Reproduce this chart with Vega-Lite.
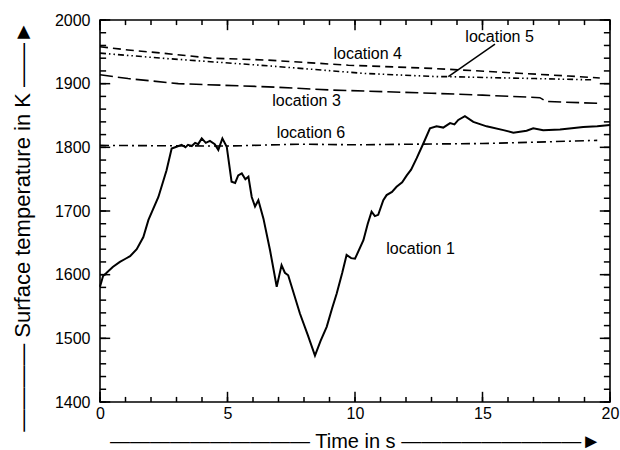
{
  "$schema": "https://vega.github.io/schema/vega-lite/v6.json",
  "width": 510,
  "height": 382,
  "autosize": "none",
  "padding": {"left": 100, "top": 20, "right": 10, "bottom": 48},
  "background": "white",
  "config": {
    "view": {"stroke": "black", "strokeWidth": 1.6},
    "font": "Liberation Sans",
    "axis": {
      "grid": false,
      "domain": false,
      "ticks": false,
      "labelColor": "black",
      "labelFontSize": 16,
      "labelFont": "Liberation Sans",
      "labelOverlap": false,
      "labelFlush": false,
      "labelBound": false,
      "titleColor": "black",
      "titleFont": "Liberation Sans",
      "titleFontWeight": "normal"
    }
  },
  "datasets": {
    "loc1": [
      {"t": 0.0, "T": 1581}, {"t": 0.12, "T": 1598}, {"t": 0.26, "T": 1603}, {"t": 0.5, "T": 1612},
      {"t": 0.78, "T": 1620}, {"t": 1.0, "T": 1625}, {"t": 1.18, "T": 1629}, {"t": 1.44, "T": 1640},
      {"t": 1.7, "T": 1659}, {"t": 1.9, "T": 1686}, {"t": 2.29, "T": 1722}, {"t": 2.61, "T": 1764},
      {"t": 2.81, "T": 1798}, {"t": 3.0, "T": 1801}, {"t": 3.2, "T": 1804}, {"t": 3.35, "T": 1800},
      {"t": 3.45, "T": 1804}, {"t": 3.6, "T": 1802}, {"t": 3.73, "T": 1807}, {"t": 3.85, "T": 1805},
      {"t": 3.99, "T": 1814}, {"t": 4.15, "T": 1807}, {"t": 4.31, "T": 1810}, {"t": 4.5, "T": 1805},
      {"t": 4.64, "T": 1796}, {"t": 4.8, "T": 1814}, {"t": 4.97, "T": 1801}, {"t": 5.16, "T": 1746},
      {"t": 5.3, "T": 1744}, {"t": 5.42, "T": 1756}, {"t": 5.56, "T": 1759}, {"t": 5.7, "T": 1750},
      {"t": 5.82, "T": 1754}, {"t": 5.95, "T": 1722}, {"t": 6.08, "T": 1707}, {"t": 6.21, "T": 1717},
      {"t": 6.41, "T": 1688}, {"t": 6.67, "T": 1638}, {"t": 6.93, "T": 1581}, {"t": 7.12, "T": 1615},
      {"t": 7.25, "T": 1603}, {"t": 7.38, "T": 1599}, {"t": 7.84, "T": 1539}, {"t": 8.15, "T": 1505},
      {"t": 8.43, "T": 1473}, {"t": 8.65, "T": 1496}, {"t": 8.89, "T": 1518}, {"t": 9.1, "T": 1547},
      {"t": 9.28, "T": 1570}, {"t": 9.5, "T": 1603}, {"t": 9.67, "T": 1631}, {"t": 9.85, "T": 1626},
      {"t": 10.0, "T": 1625}, {"t": 10.33, "T": 1654}, {"t": 10.5, "T": 1680}, {"t": 10.65, "T": 1699},
      {"t": 10.78, "T": 1692}, {"t": 10.91, "T": 1694}, {"t": 11.11, "T": 1717}, {"t": 11.24, "T": 1725},
      {"t": 11.45, "T": 1730}, {"t": 11.63, "T": 1738}, {"t": 11.85, "T": 1745}, {"t": 12.03, "T": 1756},
      {"t": 12.2, "T": 1765}, {"t": 12.42, "T": 1783}, {"t": 12.68, "T": 1806}, {"t": 12.94, "T": 1830},
      {"t": 13.2, "T": 1833}, {"t": 13.46, "T": 1831}, {"t": 13.73, "T": 1838}, {"t": 13.9, "T": 1836},
      {"t": 14.05, "T": 1843}, {"t": 14.31, "T": 1849}, {"t": 14.64, "T": 1840}, {"t": 15.16, "T": 1833},
      {"t": 15.82, "T": 1827}, {"t": 16.21, "T": 1823}, {"t": 16.73, "T": 1826}, {"t": 16.99, "T": 1830},
      {"t": 17.38, "T": 1827}, {"t": 18.04, "T": 1828}, {"t": 18.5, "T": 1830}, {"t": 18.95, "T": 1832},
      {"t": 19.5, "T": 1833}, {"t": 20.0, "T": 1835}
    ],
    "dashed": [
      {"loc": "location 3", "t": 0.0, "T": 1914}, {"loc": "location 3", "t": 1.1, "T": 1908},
      {"loc": "location 3", "t": 3.07, "T": 1900}, {"loc": "location 3", "t": 6.6, "T": 1895},
      {"loc": "location 3", "t": 9.09, "T": 1890}, {"loc": "location 3", "t": 13.0, "T": 1885},
      {"loc": "location 3", "t": 15.0, "T": 1882}, {"loc": "location 3", "t": 17.25, "T": 1878},
      {"loc": "location 3", "t": 17.5, "T": 1872}, {"loc": "location 3", "t": 19.6, "T": 1869},
      {"loc": "location 4", "t": 0.0, "T": 1958}, {"loc": "location 4", "t": 1.1, "T": 1953},
      {"loc": "location 4", "t": 2.42, "T": 1948}, {"loc": "location 4", "t": 4.38, "T": 1940},
      {"loc": "location 4", "t": 6.6, "T": 1937}, {"loc": "location 4", "t": 9.74, "T": 1929},
      {"loc": "location 4", "t": 13.0, "T": 1924}, {"loc": "location 4", "t": 15.75, "T": 1918},
      {"loc": "location 4", "t": 18.37, "T": 1912}, {"loc": "location 4", "t": 19.6, "T": 1909},
      {"loc": "location 5", "t": 0.0, "T": 1948}, {"loc": "location 5", "t": 2.42, "T": 1940},
      {"loc": "location 5", "t": 6.6, "T": 1928}, {"loc": "location 5", "t": 10.4, "T": 1916},
      {"loc": "location 5", "t": 13.27, "T": 1911}, {"loc": "location 5", "t": 13.66, "T": 1911},
      {"loc": "location 5", "t": 17.06, "T": 1908}, {"loc": "location 5", "t": 19.3, "T": 1906},
      {"loc": "location 6", "t": 0.0, "T": 1803}, {"loc": "location 6", "t": 5.0, "T": 1802},
      {"loc": "location 6", "t": 7.84, "T": 1805}, {"loc": "location 6", "t": 10.0, "T": 1804},
      {"loc": "location 6", "t": 15.0, "T": 1806}, {"loc": "location 6", "t": 17.0, "T": 1808},
      {"loc": "location 6", "t": 19.5, "T": 1811}
    ],
    "labels": [
      {"label": "location 4", "t": 10.5, "T": 1946},
      {"label": "location 3", "t": 8.1, "T": 1873},
      {"label": "location 5", "t": 15.67, "T": 1974},
      {"label": "location 6", "t": 8.27, "T": 1822},
      {"label": "location 1", "t": 12.57, "T": 1640}
    ],
    "leader": [
      {"t": 15.49, "T": 1962, "t2": 13.66, "T2": 1911}
    ],
    "xt": [
      {"t": 0}, {"t": 1}, {"t": 2}, {"t": 3}, {"t": 4}, {"t": 5}, {"t": 6}, {"t": 7}, {"t": 8}, {"t": 9}, {"t": 10},
      {"t": 11}, {"t": 12}, {"t": 13}, {"t": 14}, {"t": 15}, {"t": 16}, {"t": 17}, {"t": 18}, {"t": 19}, {"t": 20}
    ],
    "yt": [
      {"T": 1400}, {"T": 1420}, {"T": 1440}, {"T": 1460}, {"T": 1480}, {"T": 1500}, {"T": 1520}, {"T": 1540},
      {"T": 1560}, {"T": 1580}, {"T": 1600}, {"T": 1620}, {"T": 1640}, {"T": 1660}, {"T": 1680}, {"T": 1700},
      {"T": 1720}, {"T": 1740}, {"T": 1760}, {"T": 1780}, {"T": 1800}, {"T": 1820}, {"T": 1840}, {"T": 1860},
      {"T": 1880}, {"T": 1900}, {"T": 1920}, {"T": 1940}, {"T": 1960}, {"T": 1980}, {"T": 2000}
    ]
  },
  "layer": [
    {
      "data": {"name": "loc1"},
      "mark": {"type": "line", "color": "black", "strokeWidth": 2, "interpolate": "linear"},
      "encoding": {
        "x": {
          "field": "t", "type": "quantitative",
          "scale": {"domain": [0, 20], "nice": false, "zero": false},
          "axis": {
            "orient": "bottom",
            "values": [0, 5, 10, 15, 20],
            "labelPadding": 3,
            "title": "—————————— Time in s —————————►",
            "titleFontSize": 20,
            "titlePadding": 10
          }
        },
        "y": {
          "field": "T", "type": "quantitative",
          "scale": {"domain": [1400, 2000], "nice": false, "zero": false},
          "axis": {
            "orient": "left",
            "values": [1400, 1500, 1600, 1700, 1800, 1900, 2000],
            "format": "d",
            "labelPadding": 10,
            "title": "———— Surface temperature in K ——►",
            "titleFontSize": 22,
            "titlePadding": 20,
            "titleY": 206
          }
        }
      }
    },
    {
      "data": {"name": "dashed"},
      "mark": {"type": "line", "color": "black", "strokeWidth": 1.6},
      "encoding": {
        "x": {"field": "t", "type": "quantitative"},
        "y": {"field": "T", "type": "quantitative"},
        "detail": {"field": "loc", "type": "nominal"},
        "strokeDash": {
          "field": "loc", "type": "nominal", "legend": null,
          "scale": {
            "domain": ["location 3", "location 4", "location 5", "location 6"],
            "range": [[13, 5], [8, 5], [6, 3, 1.5, 3, 1.5, 3], [9, 4, 2, 4]]
          }
        }
      }
    },
    {
      "data": {"name": "labels"},
      "mark": {"type": "text", "font": "Liberation Sans", "fontSize": 16, "color": "black", "align": "center", "baseline": "middle"},
      "encoding": {
        "x": {"field": "t", "type": "quantitative"},
        "y": {"field": "T", "type": "quantitative"},
        "text": {"field": "label"}
      }
    },
    {
      "data": {"name": "leader"},
      "mark": {"type": "rule", "color": "black", "strokeWidth": 1.5},
      "encoding": {
        "x": {"field": "t", "type": "quantitative"},
        "y": {"field": "T", "type": "quantitative"},
        "x2": {"field": "t2"},
        "y2": {"field": "T2"}
      }
    },
    {
      "data": {"name": "xt"},
      "mark": {"type": "rule", "color": "black", "strokeWidth": 1.5},
      "encoding": {
        "x": {"field": "t", "type": "quantitative"},
        "y": {"datum": 1400, "type": "quantitative"},
        "y2": {"datum": 1408}
      }
    },
    {
      "data": {"name": "xt"},
      "mark": {"type": "rule", "color": "black", "strokeWidth": 1.5},
      "encoding": {
        "x": {"field": "t", "type": "quantitative"},
        "y": {"datum": 2000, "type": "quantitative"},
        "y2": {"datum": 1992}
      }
    },
    {
      "data": {"name": "xt"},
      "transform": [{"filter": "datum.t % 5 === 0"}],
      "mark": {"type": "rule", "color": "black", "strokeWidth": 1.5},
      "encoding": {
        "x": {"field": "t", "type": "quantitative"},
        "y": {"datum": 1400, "type": "quantitative"},
        "y2": {"datum": 1416}
      }
    },
    {
      "data": {"name": "xt"},
      "transform": [{"filter": "datum.t % 5 === 0"}],
      "mark": {"type": "rule", "color": "black", "strokeWidth": 1.5},
      "encoding": {
        "x": {"field": "t", "type": "quantitative"},
        "y": {"datum": 2000, "type": "quantitative"},
        "y2": {"datum": 1984}
      }
    },
    {
      "data": {"name": "yt"},
      "mark": {"type": "rule", "color": "black", "strokeWidth": 1.5},
      "encoding": {
        "y": {"field": "T", "type": "quantitative"},
        "x": {"datum": 0, "type": "quantitative"},
        "x2": {"datum": 0.24}
      }
    },
    {
      "data": {"name": "yt"},
      "mark": {"type": "rule", "color": "black", "strokeWidth": 1.5},
      "encoding": {
        "y": {"field": "T", "type": "quantitative"},
        "x": {"datum": 20, "type": "quantitative"},
        "x2": {"datum": 19.76}
      }
    },
    {
      "data": {"name": "yt"},
      "transform": [{"filter": "datum.T % 100 === 0"}],
      "mark": {"type": "rule", "color": "black", "strokeWidth": 1.5},
      "encoding": {
        "y": {"field": "T", "type": "quantitative"},
        "x": {"datum": 0, "type": "quantitative"},
        "x2": {"datum": 0.4}
      }
    },
    {
      "data": {"name": "yt"},
      "transform": [{"filter": "datum.T % 100 === 0"}],
      "mark": {"type": "rule", "color": "black", "strokeWidth": 1.5},
      "encoding": {
        "y": {"field": "T", "type": "quantitative"},
        "x": {"datum": 20, "type": "quantitative"},
        "x2": {"datum": 19.6}
      }
    }
  ]
}
